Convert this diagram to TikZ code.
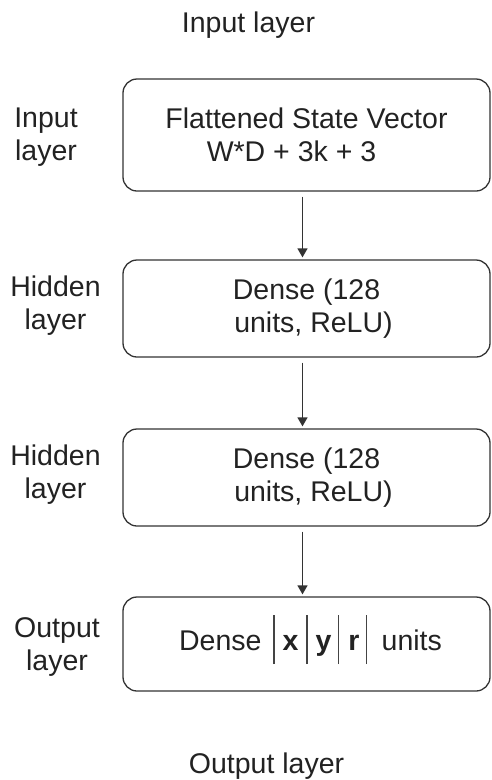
\documentclass[tikz,border=0pt]{standalone}
\usepackage{fontspec}
\setmainfont{Liberation Sans}
\usetikzlibrary{arrows.meta}
\definecolor{inkc}{HTML}{222222}
\definecolor{linec}{HTML}{333333}
\definecolor{barc}{HTML}{444444}
% thin vertical separator used in the output unit list
\newcommand\unitbar{\textcolor{barc}{\rule[-14pt]{1.1pt}{49pt}}}
\tikzset{
  bigtext/.style={font=\fontsize{28.5}{33}\selectfont, text=inkc},
  layerbox/.style={draw=linec, line width=1.3pt, rounded corners=14pt,
    minimum width=367pt, inner sep=0pt, align=center, bigtext},
  sidelabel/.style={align=center, inner sep=0pt, bigtext},
  headline/.style={inner sep=0pt, anchor=base, bigtext},
  flowarrow/.style={draw=linec, line width=1.4pt,
    -{Triangle[length=9pt,width=10pt]}, shorten <=5pt, shorten >=2pt},
}
\begin{document}
\begin{tikzpicture}[x=1pt,y=-1pt]
  \useasboundingbox (0,0) rectangle (491,780);

  % headings
  \node[headline] (intitle) at (248.5,32) {Input layer};
  \node[headline] (outtitle) at (266.5,773) {Output layer};

  % layer boxes
  \node[layerbox, minimum height=112pt] (b1) at (306.5,135)
    {Flattened State Vector\\\hspace*{-30pt}W*D + 3k + 3};
  \node[layerbox, minimum height=97pt] (b2) at (306.5,308.5)
    {Dense (128\\\hspace*{14pt}units, ReLU)};
  \node[layerbox, minimum height=97pt] (b3) at (306.5,477.5)
    {Dense (128\\\hspace*{14pt}units, ReLU)};
  \node[layerbox, minimum height=94pt, text depth=23pt] (b4) at (306.5,644)
    {\hspace*{8pt}Dense\hspace{12pt}\unitbar\hspace{8pt}\textbf{x}\hspace{8pt}\unitbar\hspace{8pt}\textbf{y}\hspace{7pt}\unitbar\hspace{9pt}\textbf{r}\hspace{6pt}\unitbar\hspace{15pt}units};

  % side labels
  \node[sidelabel] (l1) at (46,137) {Input\\layer};
  \node[sidelabel] (l2) at (55.5,306) {Hidden\\layer};
  \node[sidelabel] (l3) at (55.5,475) {Hidden\\layer};
  \node[sidelabel] (l4) at (57,647) {Output\\layer};

  % connectors between the layers
  \coordinate (ax) at (302.5,0);
  \draw[flowarrow] (b1.south -| ax) -- (b2.north -| ax);
  \draw[flowarrow] (b2.south -| ax) -- (b3.north -| ax);
  \draw[flowarrow] (b3.south -| ax) -- (b4.north -| ax);
\end{tikzpicture}
\end{document}
